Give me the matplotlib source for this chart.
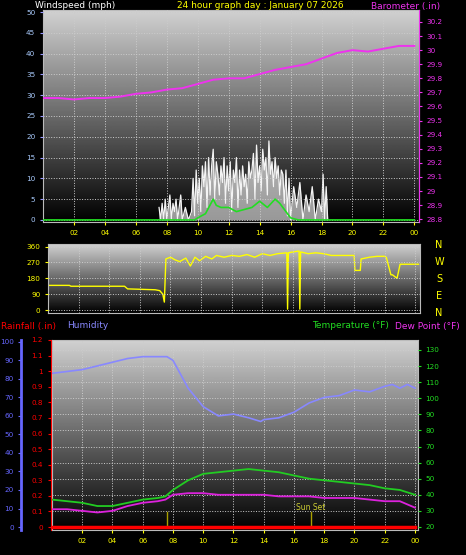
import numpy as np
import matplotlib
matplotlib.use("Agg")
import matplotlib.pyplot as plt

# ---------------- data ----------------
baro_h = [0,1,2,3,4,5,6,7,8,9,10,11,12,13,14,15,16,17,18,19,20,21,22,23,24]
baro = [29.66,29.66,29.65,29.66,29.66,29.67,29.69,29.70,29.72,29.73,29.76,29.79,29.80,29.80,29.83,29.86,29.88,29.90,29.94,29.98,30.00,29.99,30.01,30.03,30.03]

gust_h = [7.5,7.6,7.7,7.8,7.9,8.0,8.1,8.2,8.3,8.4,8.5,8.6,8.7,8.8,8.9,9.0,9.2,9.4,9.6,9.7,9.8,9.9,10.0,10.1,10.2,10.3,10.4,10.5,10.6,10.7,10.8,10.9,11.0,11.1,11.2,11.3,11.4,11.5,11.6,11.7,11.8,11.9,12.0,12.1,12.2,12.3,12.4,12.5,12.6,12.7,12.8,12.9,13.0,13.1,13.2,13.3,13.4,13.5,13.6,13.7,13.8,13.9,14.0,14.1,14.2,14.3,14.4,14.5,14.6,14.7,14.8,14.9,15.0,15.1,15.2,15.3,15.4,15.5,15.6,15.7,15.8,15.9,16.0,16.2,16.4,16.6,16.8,17.0,17.2,17.4,17.6,17.8,18.0,18.1,18.2,18.3,18.4]
gust = [3,0,4,0,5,0,3,6,0,4,2,5,0,3,6,0,3,0,2,10,1,12,4,10,2,13,8,14,3,15,6,13,17,5,14,11,6,13,9,15,4,13,7,14,2,12,9,15,3,12,6,13,8,11,4,14,10,12,16,5,18,9,13,7,17,12,15,6,19,11,14,8,15,10,13,6,12,11,4,12,1,10,0,8,3,9,0,6,2,8,0,5,2,11,0,8,0]
avg_h = [0,9.8,10.0,10.5,11.0,11.2,11.5,12.0,12.5,13.0,13.5,14.0,14.5,15.0,15.3,15.6,16.0,16.5,24]
avg = [0,0,0.5,1.5,5,3.5,3,3,2,2.5,3,4.5,3,5,4,2.5,0.5,0,0]

dir_h = [0,1.4,1.5,5.0,5.2,7.0,7.3,7.5,7.6,7.7,8.0,8.3,8.6,9.0,9.3,9.6,9.9,10.3,10.7,11.0,11.5,12.0,12.5,13.0,13.5,14.0,14.5,15.0,15.6,15.65,15.7,16.0,16.4,16.45,16.5,17.0,17.5,18.0,18.5,19.0,19.5,20.0,20.05,20.4,20.45,21.0,21.5,22.0,22.1,22.4,22.5,22.8,23.0,24.2]
wdir = [140,140,135,135,120,115,110,90,45,290,300,285,275,295,250,300,280,305,290,310,300,310,305,315,300,320,310,320,325,5,325,330,335,5,330,320,325,320,310,310,310,310,225,225,290,300,305,305,300,200,200,180,260,260]

hum_h = [0,1,2,3,4,5,6,7,7.6,8,9,10,11,12,13,13.8,14,15,16,17,18,19,20,21,22,22.5,23,23.5,24]
hum = [83,84,85,87,89,91,92,92,92,90,75,65,60,61,59,57,58,59,62,67,70,71,74,73,76,77,75,77,75]
temp_h = [0,1,2,3,4,5,6,7,7.5,8,9,10,11,12,13,14,15,16,17,18,19,20,21,22,23,24]
temp = [37,36,35,33,33,35,37,38,39,43,49,53,54,55,56,55,54,52,50,49,48,47,46,44,43,40]
dew = [31,31,30,29,30,33,35,36,37,40,41,41,40,40,40,40,39,39,39,38,38,38,37,36,36,32]
rain = [0]*len(temp_h)

hours = [2,4,6,8,10,12,14,16,18,20,22,24]
hour_labels = ["02","04","06","08","10","12","14","16","18","20","22","00"]

W, H = 466, 555
fig = plt.figure(figsize=(W/100, H/100), dpi=100, facecolor="black")

def ax_at(x0, y0, x1, y1):
    return fig.add_axes([x0/W, 1-y1/H, (x1-x0)/W, (y1-y0)/H])

grad = np.linspace(0.82, 0.0, 256).reshape(-1, 1)
def background(ax):
    ax.imshow(grad, cmap="gray", vmin=0, vmax=1, aspect="auto",
              extent=(0, 1, 0, 1), transform=ax.transAxes, zorder=0)
    for s in ax.spines.values():
        s.set_color("#bbbbbb")
    ax.grid(True, color="#cccccc", linestyle=":", linewidth=0.7)
    ax.set_axisbelow(False)

FS = 5.2
# -------- panel 1 --------
a1 = ax_at(43, 10, 419, 222)
background(a1)
a1.set_xlim(0, 24.3)
a1.set_ylim(-0.5, 50.5)
a1.fill_between(gust_h, gust, color="white", alpha=0.6, linewidth=0, zorder=2)
a1.plot(gust_h, gust, color="#f4f4f4", lw=0.9, zorder=2)
a1.plot(avg_h, avg, color="#22dd22", lw=1.2, zorder=3)
a1.set_yticks(range(0, 51, 5))
a1.set_xticks(hours)
a1.set_xticklabels(hour_labels)
a1.tick_params(axis="y", colors="#9999ff", labelsize=FS, length=2, labelcolor="#aaccff")
a1.tick_params(axis="x", colors="yellow", labelsize=FS, length=2)
b1 = a1.twinx()
b1.set_ylim(28.78, 30.285)
b1.plot(baro_h, baro, color="#ee33ee", lw=1.4)
b1.set_yticks(np.round(np.arange(28.8, 30.21, 0.1), 1))
b1.set_yticklabels([("%g" % v) for v in np.round(np.arange(28.8, 30.21, 0.1), 1)])
b1.tick_params(axis="y", colors="#ee33ee", labelsize=FS, length=2)
for s in b1.spines.values():
    s.set_visible(False)
b1.spines["right"].set_visible(True); b1.spines["right"].set_color("#ee33ee")

fig.text(35/W, 1-6/H, "Windspeed (mph)", color="white", fontsize=6.5, va="center")
fig.text(260/W, 1-6/H, "24 hour graph day : January 07 2026", color="yellow", fontsize=6.5, va="center", ha="center")
fig.text(440/W, 1-6/H, "Barometer (.in)", color="#ee33ee", fontsize=6.5, va="center", ha="right")

# -------- panel 2 --------
a2 = ax_at(48, 244, 420, 313)
background(a2)
a2.set_xlim(0, 24.3)
a2.set_ylim(-17, 375)
a2.plot(dir_h, wdir, color="yellow", lw=1.0)
a2.set_yticks([0, 90, 180, 270, 360])
a2.set_xticks(hours)
a2.set_xticklabels([])
a2.tick_params(axis="y", colors="yellow", labelsize=FS, length=2)
a2.tick_params(axis="x", length=0)
for i, c in enumerate("NWSEN"):
    fig.text(439/W, 1-(245+i*17)/H, c, color="yellow", fontsize=7, ha="center", va="center")

fig.text(1/W, 1-326/H, "Rainfall (.in)", color="red", fontsize=6.5, va="center")
fig.text(67/W, 1-326/H, "Humidity", color="#8888ff", fontsize=6.5, va="center")
fig.text(312/W, 1-326/H, "Temperature (°F)", color="#22dd22", fontsize=6.5, va="center")
fig.text(395/W, 1-326/H, "Dew Point (°F)", color="#ee33ee", fontsize=6.5, va="center")

# -------- panel 3 --------
a3 = ax_at(52, 340, 418, 530)
background(a3)
a3.set_xlim(0, 24.2)
a3.set_ylim(18.1, 136.2)
a3.plot(temp_h, temp, color="#22cc22", lw=1.3, zorder=3)
a3.plot(temp_h, dew, color="#dd22dd", lw=1.3, zorder=3)
a3.set_xticks(hours)
a3.set_xticklabels(hour_labels)
a3.tick_params(axis="x", colors="yellow", labelsize=FS, length=2)
for xs in [7.6, 17.1]:
    a3.plot([xs, xs], [20, 29], color="#aaa000", lw=1, zorder=3)
a3.text(17.1, 29.5, "Sun Set", color="#cccc33", fontsize=5.5, ha="center", va="bottom")

hx = a3.twinx()
rx = a3.twinx()
a3.yaxis.tick_right()
a3.set_yticks(range(20, 131, 10))
a3.tick_params(axis="y", colors="#22dd22", labelsize=FS, length=2)

hx.set_ylim(-1.6, 101)
hx.plot(hum_h, hum, color="#8888ff", lw=1.2)
hx.yaxis.tick_left()
hx.spines["left"].set_position(("outward", 22))
hx.spines["left"].set_color("#6666ff"); hx.spines["left"].set_linewidth(2)
hx.set_yticks(range(0, 101, 10))
hx.tick_params(axis="y", colors="#6666ff", labelsize=FS, length=2)
for k in ["right", "top", "bottom"]:
    hx.spines[k].set_visible(False)

rx.set_ylim(-0.019, 1.2)
rx.plot(temp_h, rain, color="red", lw=2.5, zorder=5)
rx.yaxis.tick_left()
rx.spines["left"].set_position(("outward", 1))
rx.spines["left"].set_color("red")
rx.set_yticks(np.round(np.arange(0, 1.21, 0.1), 1))
rx.set_yticklabels([("%g" % v) for v in np.round(np.arange(0, 1.21, 0.1), 1)])
rx.tick_params(axis="y", colors="red", labelsize=FS, length=2)
for k in ["right", "top", "bottom"]:
    rx.spines[k].set_visible(False)

fig.savefig("out.png", dpi=100, facecolor="black")
